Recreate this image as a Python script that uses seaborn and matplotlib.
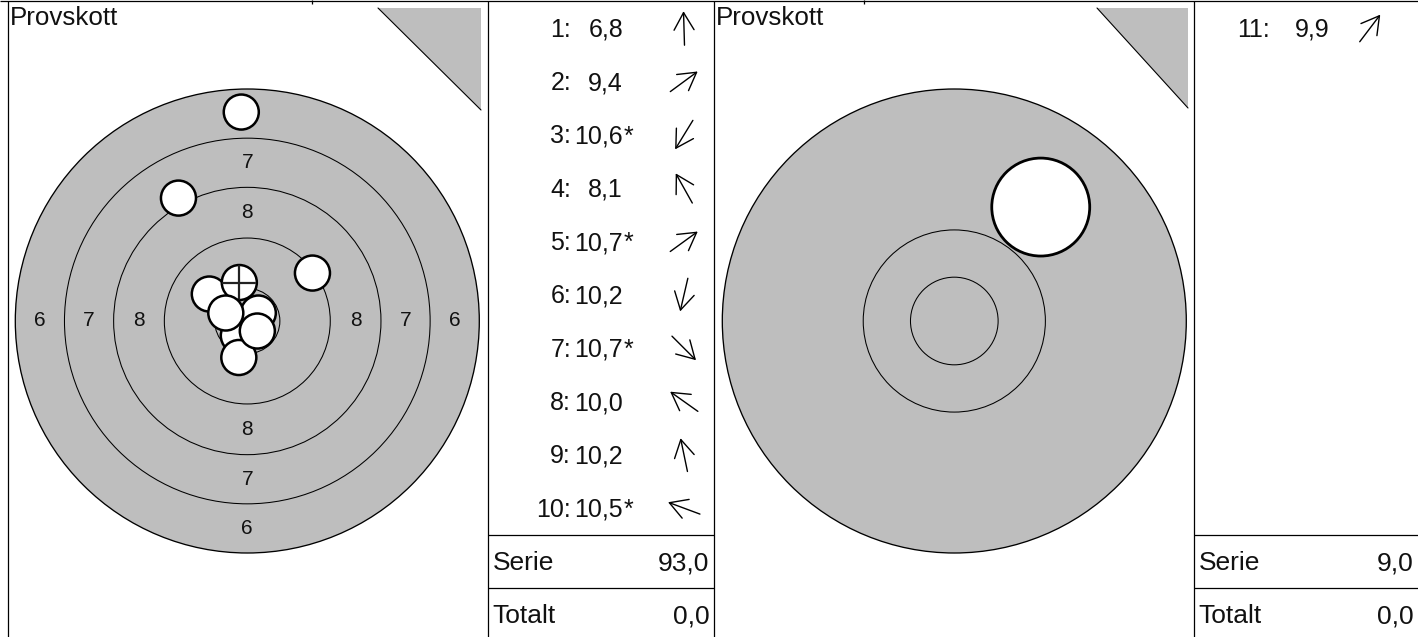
#Provskott target display
import numpy as np
import matplotlib
import matplotlib.pyplot as plt
from matplotlib.patches import Circle, Polygon
import seaborn as sns

matplotlib.use("Agg")

# series 1 : shot positions in mm from target centre (y up)
shot_no = [1, 2, 3, 4, 5, 6, 7, 8, 9, 10]
shot_score = [6.8, 9.4, 10.6, 8.1, 10.7, 10.2, 10.7, 10.0, 10.2, 10.5]
shot_inner = [False, False, True, False, True, False, True, False, False, True]
shot_x = [-0.98, 10.6, -1.46, -11.2, 1.79, -1.38, 1.63, -6.18, -1.30, -3.50]
shot_y = [34.0, 7.8, -2.38, 20.0, 1.30, -5.94, -1.63, 4.39, 6.26, 1.30]
marked_shot = 9

# series 2
shot2_no = [11]
shot2_score = [9.9]
shot2_inner = [False]
shot2_x = [5.03]
shot2_y = [6.63]

series_sum = [93.0, 9.0]
total_sum = [0.0, 0.0]

# rings 6,7,8,9,10 and inner ten (radius, mm)
ring_value = [6, 7, 8, 9, 10, "X"]
ring_radius = [37.75, 29.75, 21.75, 13.5, 5.3, 2.55]
label_rings = [6, 7, 8]
shot_radius = 2.85

W, H = 1418, 637
GREY = "#bebebe"
INK = "#111111"

sns.set_theme(style="white")
plt.rcParams["font.family"] = ["Liberation Sans", "DejaVu Sans"]


def fmt(v):
    return f"{v:.1f}".replace(".", ",")


def target_axes(fig, x0, x1, cx, cy, scale):
    ax = fig.add_axes([x0 / W, 0, (x1 - x0) / W, (H - 1.5) / H])
    ax.set_xlim((x0 - cx) / scale, (x1 - cx) / scale)
    ax.set_ylim((cy - H) / scale, (cy - 1.5) / scale)
    ax.set_axis_off()
    return ax


fig = plt.figure(figsize=(W / 100, H / 100), dpi=100)

# ---- left target (full) ----
ax1 = target_axes(fig, 7.5, 487, 247.3, 321, 232 / ring_radius[0])
ax1.add_patch(Circle((0, 0), ring_radius[0], fc=GREY, ec="black", lw=0.95, zorder=1))
for r in ring_radius[1:]:
    ax1.add_patch(Circle((0, 0), r, fc="none", ec="black", lw=0.75, zorder=2))
for i, v in enumerate(ring_value[:-1]):
    if v in label_rings:
        rr = (ring_radius[i] + ring_radius[i + 1]) / 2
        for dx, dy in [(1, 0), (-1, 0), (0, 1), (0, -1)]:
            ax1.text(dx * rr, dy * rr, str(v), ha="center", va="center",
                     fontsize=15, color=INK, zorder=3)
for i, n in enumerate(shot_no):
    ax1.add_patch(Circle((shot_x[i], shot_y[i]), shot_radius, fc="white",
                         ec="black", lw=1.8, zorder=4 + i))
    if n == marked_shot:
        c = shot_radius * 0.92
        ax1.plot([shot_x[i] - c, shot_x[i] + c], [shot_y[i], shot_y[i]],
                 color="#222222", lw=1.6, zorder=5 + i)
        ax1.plot([shot_x[i], shot_x[i]], [shot_y[i] - c, shot_y[i] + c],
                 color="#222222", lw=1.6, zorder=5 + i)

# ---- right target (zoomed to 9 ring) ----
ax2 = target_axes(fig, 713.5, 1193, 954.3, 321, 232 / ring_radius[3])
ax2.add_patch(Circle((0, 0), ring_radius[3], fc=GREY, ec="black", lw=0.95, zorder=1))
for r in ring_radius[4:]:
    ax2.add_patch(Circle((0, 0), r, fc="none", ec="black", lw=0.75, zorder=2))
for i in range(len(shot2_no)):
    ax2.add_patch(Circle((shot2_x[i], shot2_y[i]), shot_radius, fc="white",
                         ec="black", lw=2.0, zorder=4))

# ---- overlay in pixel coordinates : frames, lists ----
ov = fig.add_axes([0, 0, 1, 1], zorder=10)
ov.set_xlim(0, W)
ov.set_ylim(H, 0)
ov.patch.set_alpha(0)
ov.set_axis_off()

lk = dict(color="black", lw=0.9, solid_capstyle="butt")
ov.plot([0, W], [1.2, 1.2], **lk)
for x in [7.5, 487.5, 713.5, 1193.5]:
    ov.plot([x, x], [1, H], **lk)
for x in [312, 864]:
    ov.plot([x, x], [0, 4], **lk)
for y in [535, 588]:
    ov.plot([487.5, 713.5], [y, y], **lk)
    ov.plot([1193.5, W], [y, y], **lk)

# corner triangles
for pts in [[(378, 8), (481, 8), (481, 110)], [(1097, 8), (1188, 8), (1188, 108)]]:
    ov.add_patch(Polygon(pts, closed=True, fc=GREY, ec="none"))
    ov.plot([pts[0][0], pts[2][0]], [pts[0][1], pts[2][1]], color="black", lw=0.8)

for x in [10, 716]:
    ov.text(x, 25, "Provskott", fontsize=18.7, ha="left", va="baseline", color=INK)

FS = 18


def shot_list(nos, scores, inner, xs, ys, lab_x, val_x, arr_x):
    for i, n in enumerate(nos):
        yb = 36.7 + 53.33 * i
        ov.text(lab_x, yb, f"{n}:", fontsize=FS, ha="right", va="baseline", color=INK)
        ov.text(val_x, yb, fmt(scores[i]), fontsize=FS, ha="right", va="baseline", color=INK)
        if inner[i]:
            ov.text(val_x + 1, yb, "*", fontsize=FS, ha="left", va="baseline", color=INK)
        d = np.hypot(xs[i], ys[i])
        ux, uy = xs[i] / d, -ys[i] / d
        yc = yb - 8.5
        L = 17
        ov.annotate("", xy=(arr_x + ux * L, yc + uy * L), xytext=(arr_x - ux * L, yc - uy * L),
                    arrowprops=dict(arrowstyle="->,head_length=1.25,head_width=0.72",
                                    lw=1.0, color="black", shrinkA=0, shrinkB=0,
                                    mutation_scale=10))


shot_list(shot_no, shot_score, shot_inner, shot_x, shot_y, 571, 623, 684)
shot_list(shot2_no, shot2_score, shot2_inner, shot2_x, shot2_y, 1270, 1330, 1370)

for k, (px0, px1) in enumerate([(487.5, 713.5), (1193.5, W)]):
    ov.text(px0 + 5, 570, "Serie", fontsize=19, ha="left", va="baseline", color=INK)
    ov.text(px1 - 4, 570, fmt(series_sum[k]), fontsize=19, ha="right", va="baseline", color=INK)
    ov.text(px0 + 5, 623.3, "Totalt", fontsize=19, ha="left", va="baseline", color=INK)
    ov.text(px1 - 4, 623.3, fmt(total_sum[k]), fontsize=19, ha="right", va="baseline", color=INK)

fig.savefig("out.png", dpi=100, facecolor="white")
